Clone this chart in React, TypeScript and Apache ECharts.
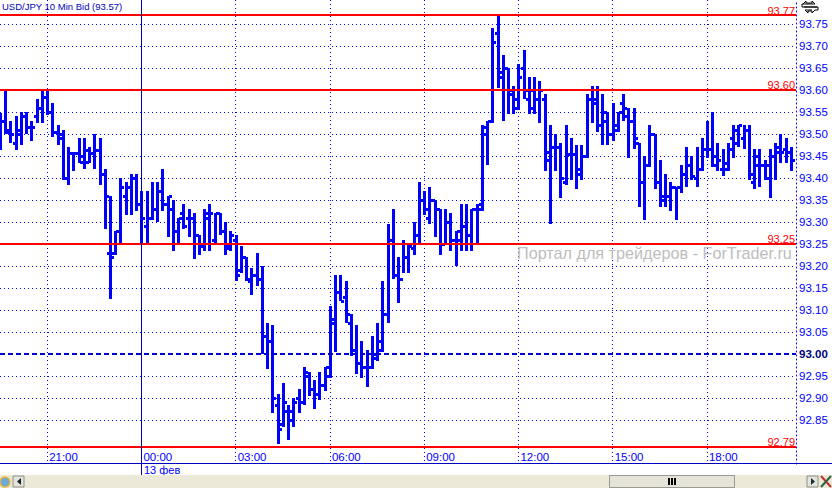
import React, { useEffect, useRef } from "react";
import * as echarts from "echarts";

const startMinutes = 19 * 60 + 30;
const barStepMinutes = 10;
const slotCount = 153;
const hourLabels = ["21:00", "00:00", "03:00", "06:00", "09:00", "12:00", "15:00", "18:00"];
const categories: string[] = [];
for (let i = 0; i < slotCount; i++) {
  const m = (startMinutes + i * barStepMinutes) % 1440;
  categories.push(String(Math.floor(m / 60)).padStart(2, "0") + ":" + String(m % 60).padStart(2, "0"));
}

const opens = [93.53,93.53,93.51,93.48,93.5,93.54,93.517,93.54,93.56,93.583,93.55,93.505,93.5,93.4,93.457,93.457,93.45,93.437,93.457,93.464,93.41,93.23,93.23,93.28,93.36,93.38,93.4,93.34,93.29,93.31,93.33,93.37,93.34,93.33,93.28,93.32,93.31,93.31,93.27,93.245,93.32,93.26,93.32,93.28,93.24,93.26,93.19,93.22,93.165,93.18,93.17,93.04,93.03,92.885,92.84,92.87,92.87,92.9,92.89,92.95,92.92,92.91,92.93,92.95,93.07,93.14,93.13,93.07,93.01,92.98,92.97,92.97,93.0,93.01,93.09,93.26,93.18,93.17,93.22,93.24,93.27,93.35,93.31,93.35,93.33,93.25,93.3,93.26,93.26,93.29,93.27,93.33,93.34,93.515,93.53,93.73,93.63,93.65,93.59,93.56,93.65,93.58,93.56,93.58,93.58,93.44,93.47,93.47,93.39,93.455,93.455,93.42,93.45,93.58,93.58,93.52,93.55,93.5,93.51,93.57,93.54,93.53,93.48,93.39,93.43,93.5,93.39,93.35,93.36,93.38,93.38,93.41,93.43,93.4,93.42,93.465,93.465,93.43,93.42,93.42,93.49,93.48,93.49,93.51,93.39,93.43,93.43,93.4,93.45,93.46,93.465,93.46];
const highs = [93.547,93.6,93.53,93.54,93.55,93.55,93.53,93.58,93.6,93.6,93.57,93.52,93.51,93.47,93.46,93.49,93.49,93.47,93.5,93.49,93.42,93.36,93.28,93.4,93.39,93.41,93.41,93.37,93.37,93.39,93.39,93.42,93.36,93.35,93.31,93.34,93.33,93.32,93.27,93.33,93.34,93.32,93.32,93.3,93.28,93.27,93.245,93.22,93.195,93.23,93.2,93.07,93.065,92.91,92.935,92.885,92.9,92.92,92.97,92.96,92.94,92.96,92.97,93.11,93.18,93.18,93.165,93.09,93.065,93.03,93.01,93.04,93.07,93.165,93.295,93.33,93.22,93.26,93.25,93.3,93.39,93.37,93.38,93.35,93.33,93.33,93.32,93.28,93.34,93.34,93.33,93.34,93.52,93.53,93.74,93.77,93.68,93.65,93.61,93.66,93.69,93.63,93.63,93.62,93.59,93.52,93.5,93.48,93.52,93.49,93.475,93.475,93.59,93.61,93.61,93.59,93.55,93.57,93.55,93.59,93.56,93.56,93.48,93.45,93.52,93.5,93.44,93.41,93.39,93.38,93.43,93.47,93.45,93.47,93.49,93.53,93.55,93.48,93.465,93.48,93.52,93.52,93.52,93.52,93.465,93.465,93.44,93.465,93.48,93.5,93.49,93.47];
const lows = [93.464,93.5,93.48,93.464,93.475,93.5,93.483,93.525,93.525,93.543,93.494,93.475,93.395,93.385,93.415,93.433,93.42,93.433,93.42,93.384,93.285,93.125,93.225,93.25,93.315,93.315,93.325,93.25,93.25,93.305,93.3,93.325,93.265,93.235,93.25,93.285,93.265,93.215,93.225,93.235,93.235,93.25,93.27,93.225,93.235,93.165,93.185,93.165,93.135,93.155,93.0,92.965,92.865,92.795,92.835,92.805,92.835,92.865,92.885,92.905,92.875,92.895,92.915,92.945,93.005,93.12,93.07,92.995,92.955,92.945,92.925,92.965,92.985,93.005,93.07,93.17,93.115,93.185,93.185,93.225,93.25,93.315,93.295,93.265,93.225,93.25,93.235,93.2,93.235,93.235,93.235,93.25,93.325,93.43,93.525,93.605,93.53,93.545,93.545,93.555,93.58,93.545,93.545,93.525,93.415,93.295,93.415,93.355,93.385,93.395,93.375,93.395,93.445,93.525,93.505,93.475,93.475,93.485,93.505,93.53,93.445,93.465,93.335,93.305,93.425,93.375,93.335,93.335,93.325,93.305,93.365,93.38,93.395,93.38,93.415,93.445,93.425,93.415,93.405,93.415,93.445,93.47,93.465,93.395,93.375,93.38,93.395,93.355,93.395,93.435,93.435,93.415];
const closes = [93.53,93.505,93.5,93.51,93.54,93.517,93.517,93.56,93.583,93.55,93.505,93.49,93.4,93.457,93.457,93.437,93.464,93.457,93.464,93.41,93.358,93.22,93.28,93.38,93.38,93.4,93.34,93.31,93.31,93.33,93.37,93.34,93.36,93.28,93.31,93.29,93.31,93.27,93.245,93.31,93.32,93.32,93.28,93.245,93.27,93.18,93.22,93.17,93.18,93.17,93.04,93.03,92.9,92.83,92.89,92.85,92.89,92.89,92.96,92.92,92.91,92.93,92.97,93.08,93.14,93.12,93.09,93.01,92.98,92.97,92.97,92.99,93.03,93.09,93.26,93.18,93.17,93.22,93.245,93.27,93.35,93.33,93.35,93.33,93.25,93.3,93.26,93.28,93.29,93.27,93.33,93.33,93.5,93.53,93.71,93.64,93.65,93.6,93.58,93.63,93.6,93.6,93.58,93.6,93.46,93.47,93.47,93.4,93.455,93.455,93.41,93.45,93.58,93.57,93.52,93.53,93.5,93.52,93.55,93.56,93.53,93.49,93.39,93.43,93.5,93.39,93.36,93.36,93.38,93.38,93.41,93.43,93.405,93.42,93.465,93.465,93.45,93.44,93.435,93.465,93.51,93.52,93.51,93.41,93.45,93.43,93.43,93.45,93.47,93.46,93.46,93.44];

const levels = [93.77, 93.6, 93.246, 92.79];
const levelLabels = ["93.77", "93.60", "93.25", "92.79"];
const midLevel = 93.0;
const hiddenLabels = ["92.75", "92.80", "93.80"];
const titleText = "USD/JPY 10 Min Bid (93.57)";
const watermarkText = "Портал для трейдеров - ForTrader.ru";
const dateText = "13 фев";

const BLUE = "#0000ff";
const RED = "#ff0000";
const FONT = "'Liberation Sans', Arial, sans-serif";

function renderBar(params: any, api: any) {
  const i = api.value(0);
  const x = Math.round(api.coord([i, api.value(1)])[0]);
  const yO = Math.round(api.coord([i, api.value(1)])[1]);
  const yH = Math.round(api.coord([i, api.value(2)])[1]);
  const yL = Math.round(api.coord([i, api.value(3)])[1]);
  const yC = Math.round(api.coord([i, api.value(4)])[1]);
  const style = { fill: BLUE };
  return {
    type: "group",
    children: [
      { type: "rect", shape: { x: x - 1, y: yH, width: 3, height: Math.max(yL - yH, 1) }, style },
      { type: "rect", shape: { x: x - 3, y: yO - 1, width: 3, height: 3 }, style },
      { type: "rect", shape: { x: x + 1, y: yC - 1, width: 3, height: 3 }, style },
    ],
  };
}

export default function App() {
  const ref = useRef<HTMLDivElement>(null);
  useEffect(() => {
    document.body.style.margin = "0";
    const chart = echarts.init(ref.current!, undefined, { renderer: "svg" });
    const rows = opens.map((o, i) => [i, o, highs[i], lows[i], closes[i]]);
    const yFormatter = (v: number) => {
      const s = v.toFixed(2);
      if (hiddenLabels.includes(s)) return "";
      if (s === midLevel.toFixed(2)) return "{b|" + s + "}";
      return s;
    };
    const gridColors: string[] = [];
    for (let v = 92.75; v < 93.805; v += 0.05) {
      gridColors.push(hiddenLabels.includes(v.toFixed(2)) || v.toFixed(2) === "93.00" ? "transparent" : BLUE);
    }
    const showHour = (_: number, val: string) => hourLabels.includes(val);
    chart.setOption({
      animation: false,
      backgroundColor: "#ffffff",
      textStyle: { fontFamily: FONT },
      grid: { left: 0, top: 0, width: 796, height: 464 },
      xAxis: {
        type: "category",
        data: categories,
        boundaryGap: false,
        axisLine: { show: false },
        axisTick: { show: false },
        axisLabel: {
          inside: true,
          interval: showHour,
          color: BLUE,
          fontFamily: FONT,
          fontSize: 11.5,
          align: "left",
          verticalAlign: "bottom",
          margin: 1,
          padding: [0, 0, 0, 2],
          hideOverlap: false,
        },
        splitLine: { show: true, interval: showHour, lineStyle: { color: BLUE, type: [1, 3], width: 1 } },
      },
      yAxis: {
        type: "value",
        position: "right",
        min: 92.75,
        max: 93.8045,
        interval: 0.05,
        axisLine: { show: true, lineStyle: { color: BLUE, type: [1, 3], width: 1 } },
        axisTick: { show: false },
        axisLabel: {
          margin: 3,
          color: BLUE,
          fontFamily: FONT,
          fontSize: 11.5,
          showMaxLabel: false,
          formatter: yFormatter,
          rich: { b: { color: "#000080", fontWeight: "bold", fontFamily: FONT, fontSize: 11.5 } },
        },
        splitLine: { show: true, lineStyle: { color: gridColors, type: [1, 3], width: 1 } },
      },
      series: [
        {
          type: "custom",
          renderItem: renderBar,
          data: rows,
          encode: { x: 0, y: [1, 2, 3, 4] },
          clip: false,
          silent: true,
          z: 3,
          markLine: {
            silent: true,
            symbol: "none",
            z: 6,
            data: [
              ...levels.map((v, i) => ({
                yAxis: v,
                lineStyle: { color: RED, type: "solid", width: 2 },
                label: {
                  show: true,
                  position: "insideEndTop",
                  formatter: levelLabels[i],
                  color: RED,
                  fontFamily: FONT,
                  fontSize: 11,
                  distance: [1, -1],
                },
              })),
              { yAxis: midLevel, lineStyle: { color: "#0000d0", type: [5, 3], width: 2 }, label: { show: false } },
              { xAxis: hourLabels[1], lineStyle: { color: "#0000c0", type: "solid", width: 1 }, label: { show: false } },
            ],
          },
        },
      ],
      graphic: [
        { type: "line", z: 10, shape: { x1: 0, y1: 463.5, x2: 832, y2: 463.5 }, style: { stroke: "#0000c0", lineWidth: 1 } },
        { type: "line", z: 10, shape: { x1: 141.5, y1: 464, x2: 141.5, y2: 475 }, style: { stroke: "#0000c0", lineWidth: 1 } },
        { type: "text", z: 10, x: 144, y: 464, style: { text: dateText, fill: BLUE, font: "11px " + FONT } },
        { type: "text", z: 10, x: 2, y: 1, style: { text: titleText, fill: "#0000c0", font: "9.5px " + FONT } },
        { type: "text", z: 1, x: 517, y: 245, style: { text: watermarkText, fill: "#bdbdbd", font: "16.2px " + FONT } },
        // scrollbar strip
        { type: "rect", z: 10, shape: { x: 0, y: 475, width: 832, height: 13 }, style: { fill: "#ecE9d8" } },
        { type: "circle", z: 11, shape: { cx: 5, cy: 482, r: 5 }, style: { fill: "#6fa8dc", stroke: "#e8b830", lineWidth: 1.5 } },
        { type: "rect", z: 11, shape: { x: 13, y: 476, width: 11, height: 11 }, style: { fill: "#e6e4d8", stroke: "#8a9090", lineWidth: 1 } },
        { type: "polygon", z: 12, shape: { points: [[21, 478], [21, 485], [17, 481.5]] }, style: { fill: "#10202c" } },
        { type: "rect", z: 11, shape: { x: 609.5, y: 475.5, width: 125, height: 12 }, style: { fill: "#e6e4d8", stroke: "#9a9a94", lineWidth: 1 } },
        { type: "rect", z: 12, shape: { x: 668, y: 478, width: 2, height: 7 }, style: { fill: "#000000" } },
        { type: "rect", z: 12, shape: { x: 671, y: 478, width: 2, height: 7 }, style: { fill: "#000000" } },
        { type: "rect", z: 12, shape: { x: 674, y: 478, width: 2, height: 7 }, style: { fill: "#000000" } },
        { type: "rect", z: 11, shape: { x: 807, y: 476, width: 11, height: 11 }, style: { fill: "#e6e4d8", stroke: "#8a9090", lineWidth: 1 } },
        { type: "polygon", z: 12, shape: { points: [[811, 478], [811, 485], [815, 481.5]] }, style: { fill: "#10303c" } },
        { type: "line", z: 12, shape: { x1: 821, y1: 476, x2: 831, y2: 487 }, style: { stroke: "#c03030", lineWidth: 2 } },
        { type: "line", z: 12, shape: { x1: 831, y1: 476, x2: 821, y2: 487 }, style: { stroke: "#306040", lineWidth: 2 } },
        // resize glyph in the top right corner
        { type: "polyline", z: 11, shape: { points: [[803, 4], [806, 1], [806, 3], [812, 3], [812, 1], [815, 4], [802, 4], [802, 7], [817, 7]] }, style: { fill: "none", stroke: "#000000", lineWidth: 1 } },
        { type: "polyline", z: 11, shape: { points: [[804, 7], [818, 7], [818, 10], [815, 10], [812, 13], [812, 11], [808, 11], [808, 13], [805, 10], [812, 10]] }, style: { fill: "none", stroke: "#000000", lineWidth: 1 } },
      ],
    });
    return () => chart.dispose();
  }, []);
  return <div ref={ref} style={{ width: 832, height: 488 }} />;
}
